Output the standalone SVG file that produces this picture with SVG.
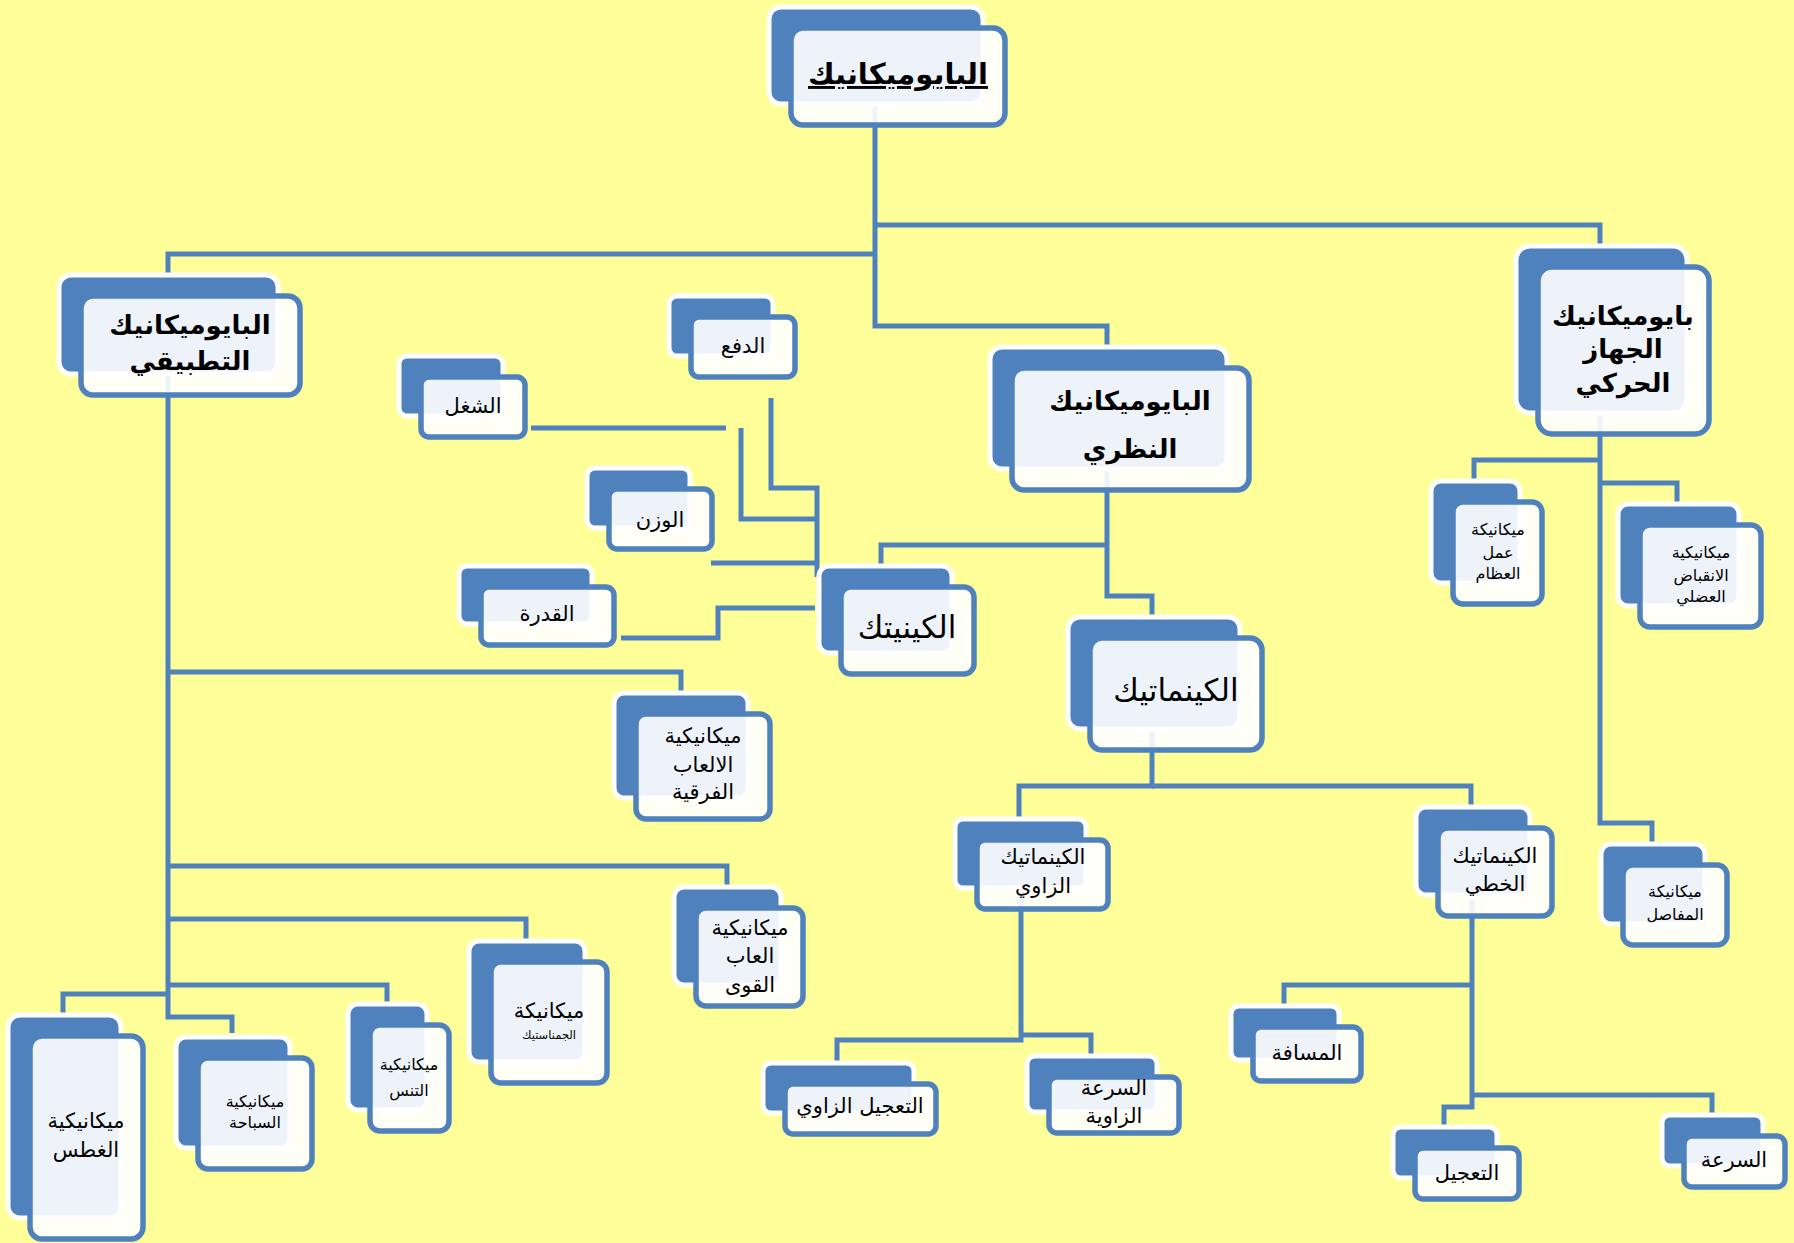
<svg xmlns="http://www.w3.org/2000/svg" width="1794" height="1243" viewBox="0 0 1794 1243">
<style>
.bk{fill:#4F81BD;stroke:#FFFFFF;stroke-width:5}
.fr{fill:#FFFFFF;fill-opacity:0.9;stroke:#4F81BD;stroke-width:5.5}
.c{fill:none;stroke:#4F81BD;stroke-width:5;stroke-linejoin:miter}
text{font-family:"DejaVu Sans",sans-serif;fill:#000;text-anchor:middle}
.b{font-weight:bold}
.h{font-size:26px;font-weight:bold}
.k{font-size:31px}
.m{font-size:21px}
.s{font-size:16px}
.t{font-size:16px}
</style>
<rect x="0" y="0" width="1794" height="1243" fill="#FFFF99"/>
<g id="connectors">
<path class="c" d="M875 100 V326 H1107 V347"/>
<path class="c" d="M875 225 H1600 V246"/>
<path class="c" d="M875 254 H168 V275"/>
<path class="c" d="M168 372 V1017 H232 V1033"/>
<path class="c" d="M168 672 H681 V693"/>
<path class="c" d="M168 866 H727 V887"/>
<path class="c" d="M168 919 H526 V939"/>
<path class="c" d="M168 985 H387 V1002"/>
<path class="c" d="M168 994 H63 V1014"/>
<path class="c" d="M531 428 H726"/>
<path class="c" d="M741 428 V519 H815"/>
<path class="c" d="M771 398 V488 H817 V577"/>
<path class="c" d="M711 563 H817"/>
<path class="c" d="M621 638 H718 V608 H815"/>
<path class="c" d="M1107 466 V596 H1152 V617"/>
<path class="c" d="M1107 545 H881 V566"/>
<path class="c" d="M1152 730 V786 H1019 V819"/>
<path class="c" d="M1152 786 H1471 V807"/>
<path class="c" d="M1021 890 V1040 H837 V1063"/>
<path class="c" d="M1021 1035 H1091 V1056"/>
<path class="c" d="M1472 900 V1107 H1444 V1127"/>
<path class="c" d="M1472 985 H1284 V1006"/>
<path class="c" d="M1472 1095 H1712 V1115"/>
<path class="c" d="M1600 414 V823 H1652 V844"/>
<path class="c" d="M1600 460 H1474 V481"/>
<path class="c" d="M1600 483 H1677 V504"/>
</g>
<g id="n-root">
<rect class="bk" x="769" y="7" width="214" height="97" rx="12"/>
<rect class="fr" x="791" y="28" width="214" height="97" rx="12"/>
<text x="898" y="84" class="b" font-size="29" text-decoration="underline">البايوميكانيك</text>
</g>
<g id="n-applied">
<rect class="bk" x="59" y="275" width="219" height="99" rx="12"/>
<rect class="fr" x="81" y="296" width="219" height="99" rx="12"/>
<text class="h"><tspan x="190" y="334">البايوميكانيك</tspan><tspan x="190" y="370">التطبيقي</tspan></text>
</g>
<g id="n-theory">
<rect class="bk" x="990" y="347" width="237" height="122" rx="12"/>
<rect class="fr" x="1012" y="368" width="237" height="122" rx="12"/>
<text class="h"><tspan x="1130" y="410">البايوميكانيك</tspan><tspan x="1130" y="458">النظري</tspan></text>
</g>
<g id="n-motor">
<rect class="bk" x="1516" y="246" width="171" height="167" rx="14"/>
<rect class="fr" x="1538" y="267" width="171" height="167" rx="14"/>
<text class="h"><tspan x="1623" y="325">بايوميكانيك</tspan><tspan x="1623" y="358">الجهاز</tspan><tspan x="1623" y="392">الحركي</tspan></text>
</g>
<g id="n-push">
<rect class="bk" x="669" y="296" width="104" height="60" rx="8"/>
<rect class="fr" x="691" y="317" width="104" height="60" rx="8"/>
<text class="m" x="743" y="353">الدفع</text>
</g>
<g id="n-work">
<rect class="bk" x="399" y="356" width="104" height="60" rx="8"/>
<rect class="fr" x="421" y="377" width="104" height="60" rx="8"/>
<text class="m" x="473" y="413">الشغل</text>
</g>
<g id="n-weight">
<rect class="bk" x="587" y="468" width="103" height="60" rx="8"/>
<rect class="fr" x="609" y="489" width="103" height="60" rx="8"/>
<text class="m" x="660" y="527" font-size="22">الوزن</text>
</g>
<g id="n-power">
<rect class="bk" x="459" y="566" width="133" height="58" rx="8"/>
<rect class="fr" x="481" y="587" width="133" height="58" rx="8"/>
<text class="m" x="547" y="621" font-size="22">القدرة</text>
</g>
<g id="n-kinetics">
<rect class="bk" x="819" y="566" width="133" height="87" rx="10"/>
<rect class="fr" x="841" y="587" width="133" height="87" rx="10"/>
<text class="k" x="907" y="638">الكينيتك</text>
</g>
<g id="n-kinematics">
<rect class="bk" x="1068" y="617" width="172" height="112" rx="12"/>
<rect class="fr" x="1090" y="638" width="172" height="112" rx="12"/>
<text class="k" x="1176" y="701">الكينماتيك</text>
</g>
<g id="n-bones">
<rect class="bk" x="1431" y="481" width="89" height="102" rx="10"/>
<rect class="fr" x="1453" y="502" width="89" height="102" rx="10"/>
<text class="s"><tspan x="1498" y="535">ميكانيكة</tspan><tspan x="1498" y="558">عمل</tspan><tspan x="1498" y="579">العظام</tspan></text>
</g>
<g id="n-muscle">
<rect class="bk" x="1618" y="504" width="121" height="102" rx="10"/>
<rect class="fr" x="1640" y="525" width="121" height="102" rx="10"/>
<text class="s"><tspan x="1701" y="558">ميكانيكية</tspan><tspan x="1701" y="581">الانقباض</tspan><tspan x="1701" y="602">العضلي</tspan></text>
</g>
<g id="n-joints">
<rect class="bk" x="1601" y="844" width="104" height="80" rx="10"/>
<rect class="fr" x="1623" y="865" width="104" height="80" rx="10"/>
<text class="s"><tspan x="1675" y="897">ميكانيكة</tspan><tspan x="1675" y="920">المفاصل</tspan></text>
</g>
<g id="n-linear">
<rect class="bk" x="1416" y="807" width="114" height="88" rx="10"/>
<rect class="fr" x="1438" y="828" width="114" height="88" rx="10"/>
<text class="m" font-size="20"><tspan x="1495" y="863">الكينماتيك</tspan><tspan x="1495" y="891">الخطي</tspan></text>
</g>
<g id="n-angular">
<rect class="bk" x="955" y="819" width="131" height="69" rx="8"/>
<rect class="fr" x="977" y="840" width="131" height="69" rx="8"/>
<text class="m" font-size="20"><tspan x="1043" y="864">الكينماتيك</tspan><tspan x="1043" y="893">الزاوي</tspan></text>
</g>
<g id="n-angacc">
<rect class="bk" x="763" y="1063" width="151" height="50" rx="8"/>
<rect class="fr" x="785" y="1084" width="151" height="50" rx="8"/>
<text class="m" x="860" y="1113">التعجيل الزاوي</text>
</g>
<g id="n-angvel">
<rect class="bk" x="1027" y="1056" width="130" height="56" rx="8"/>
<rect class="fr" x="1049" y="1077" width="130" height="56" rx="8"/>
<text class="m"><tspan x="1114" y="1095">السرعة</tspan><tspan x="1114" y="1123">الزاوية</tspan></text>
</g>
<g id="n-distance">
<rect class="bk" x="1231" y="1006" width="108" height="54" rx="8"/>
<rect class="fr" x="1253" y="1027" width="108" height="54" rx="8"/>
<text class="m" x="1307" y="1060">المسافة</text>
</g>
<g id="n-acc">
<rect class="bk" x="1393" y="1127" width="104" height="51" rx="8"/>
<rect class="fr" x="1415" y="1148" width="104" height="51" rx="8"/>
<text class="m" x="1467" y="1180">التعجيل</text>
</g>
<g id="n-vel">
<rect class="bk" x="1662" y="1115" width="101" height="51" rx="8"/>
<rect class="fr" x="1684" y="1136" width="101" height="51" rx="8"/>
<text class="m" x="1734" y="1167">السرعة</text>
</g>
<g id="n-team">
<rect class="bk" x="614" y="693" width="134" height="105" rx="10"/>
<rect class="fr" x="636" y="714" width="134" height="105" rx="10"/>
<text class="m"><tspan x="703" y="743">ميكانيكية</tspan><tspan x="703" y="772">الالعاب</tspan><tspan x="703" y="799">الفرقية</tspan></text>
</g>
<g id="n-athletics">
<rect class="bk" x="674" y="887" width="107" height="98" rx="10"/>
<rect class="fr" x="696" y="908" width="107" height="98" rx="10"/>
<text class="m"><tspan x="750" y="935">ميكانيكية</tspan><tspan x="750" y="963">العاب</tspan><tspan x="750" y="992">القوى</tspan></text>
</g>
<g id="n-gym">
<rect class="bk" x="469" y="941" width="116" height="121" rx="10"/>
<rect class="fr" x="491" y="962" width="116" height="121" rx="10"/>
<text class="m" x="549" y="1018">ميكانيكة</text>
<text x="549" y="1039" font-size="11.5">الجمناستيك</text>
</g>
<g id="n-tennis">
<rect class="bk" x="348" y="1004" width="79" height="106" rx="10"/>
<rect class="fr" x="370" y="1025" width="79" height="106" rx="10"/>
<text class="t"><tspan x="409" y="1070">ميكانيكية</tspan><tspan x="409" y="1096">التنس</tspan></text>
</g>
<g id="n-swim">
<rect class="bk" x="176" y="1037" width="114" height="111" rx="10"/>
<rect class="fr" x="198" y="1058" width="114" height="111" rx="10"/>
<text class="t"><tspan x="255" y="1107">ميكانيكية</tspan><tspan x="255" y="1128">السباحة</tspan></text>
</g>
<g id="n-dive">
<rect class="bk" x="8" y="1015" width="113" height="203" rx="12"/>
<rect class="fr" x="30" y="1036" width="113" height="203" rx="12"/>
<text class="m"><tspan x="86" y="1128">ميكانيكية</tspan><tspan x="86" y="1157">الغطس</tspan></text>
</g>
</svg>
